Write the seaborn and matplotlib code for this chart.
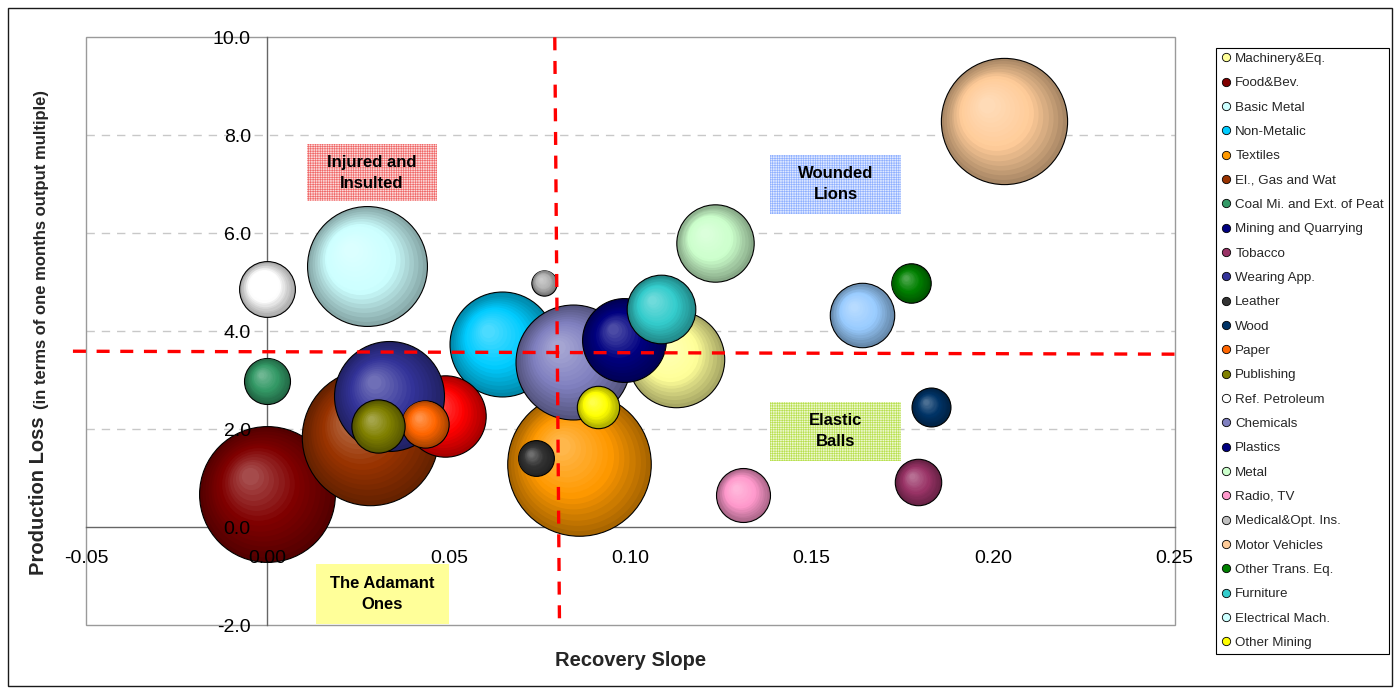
import numpy as np
import pandas as pd
import matplotlib
matplotlib.use("Agg")
import matplotlib.pyplot as plt
import matplotlib.transforms as mtransforms
import matplotlib.colors as mcolors
from matplotlib.patches import Rectangle
from matplotlib.lines import Line2D
import seaborn as sns

# ---- data -------------------------------------------------------------
sectors = [
    "Machinery&Eq.", "Food&Bev.", "Basic Metal", "Non-Metalic", "Textiles",
    "El., Gas and Wat", "Coal Mi. and Ext. of Peat", "Mining and Quarrying",
    "Tobacco", "Wearing App.", "Leather", "Wood", "Paper", "Publishing",
    "Ref. Petroleum", "Chemicals", "Plastics", "Metal", "Radio, TV",
    "Medical&Opt. Ins.", "Motor Vehicles", "Other Trans. Eq.", "Furniture",
    "Electrical Mach.", "Other Mining",
]
recovery_slope = [
    0.1125, 0.0000, 0.0274, 0.0646, 0.0860,
    0.0283, 0.0000, 0.0490,
    0.1794, 0.0334, 0.0739, 0.1829, 0.0434, 0.0306,
    0.0000, 0.0841, 0.0983, 0.1234, 0.1312,
    0.0763, 0.2030, 0.1773, 0.1086,
    0.1639, 0.0911,
]
production_loss = [
    3.44, 0.68, 5.33, 3.73, 1.28,
    1.84, 2.99, 2.27,
    0.91, 2.67, 1.40, 2.45, 2.11, 2.06,
    4.86, 3.37, 3.81, 5.80, 0.65,
    4.99, 8.29, 4.98, 4.45,
    4.33, 2.45,
]
bubble_size = [
    23.3, 46.2, 36.0, 27.6, 51.6,
    46.6, 5.3, 16.6,
    5.4, 30.3, 3.2, 3.8, 5.6, 7.1,
    7.8, 33.1, 17.6, 15.0, 7.3,
    1.6, 39.9, 3.9, 11.8,
    10.4, 4.5,
]
bubble_colors = [
    "#FFFF99", "#800000", "#CCFFFF", "#00CCFF", "#FF9900",
    "#993300", "#339966", "#FF0000",
    "#993366", "#333399", "#333333", "#003366", "#FF6600", "#808000",
    "#FFFFFF", "#8080C0", "#000080", "#CCFFCC", "#FF99CC",
    "#B4B4B4", "#FFCC99", "#008000", "#33CCCC",
    "#99CCFF", "#FFFF00",
]
legend_colors = list(bubble_colors)
legend_colors[sectors.index("Mining and Quarrying")] = "#000080"
legend_colors[sectors.index("Electrical Mach.")] = "#CCFFFF"
legend_colors[sectors.index("Medical&Opt. Ins.")] = "#C0C0C0"

x_ticks = [-0.05, 0.00, 0.05, 0.10, 0.15, 0.20, 0.25]
y_ticks = [-2.0, 0.0, 2.0, 4.0, 6.0, 8.0, 10.0]
grid_levels = [2.0, 4.0, 6.0, 8.0]

# quadrant dividers (slightly tilted hand-drawn lines)
divider_slope = ([0.0792, 0.0805], [10.0, -2.0])
divider_loss = ([-0.0536, 0.25], [3.59, 3.53])

# quadrant captions: text, (x0, y0, width, height), face, hatch colour, hatch
quadrants = [
    ("Injured and\nInsulted", (0.0108, 6.65, 0.0360, 1.17), "#fcdada", "#f06868", "+++++++"),
    ("Wounded\nLions", (0.1386, 6.39, 0.0361, 1.21), "#e0e9ff", "#8fb0ff", "+++++++"),
    ("Elastic\nBalls", (0.1386, 1.35, 0.0361, 1.21), "#eef8d0", "#b8e050", "+++++++"),
    ("The Adamant\nOnes", (0.0134, -1.97, 0.0366, 1.21), "#FFFF99", None, None),
]

df = pd.DataFrame({
    "sector": sectors,
    "slope": recovery_slope,
    "loss": production_loss,
    "size": bubble_size,
    "color": bubble_colors,
})

# ---- style --------------------------------------------------------------
sns.set_theme(style="white")
plt.rcParams["font.family"] = ["Liberation Sans", "DejaVu Sans"]
plt.rcParams["axes.unicode_minus"] = False
plt.rcParams["hatch.linewidth"] = 0.45

DPI = 100
W, H = 1394, 688
fig = plt.figure(figsize=(W / DPI, H / DPI), dpi=DPI)
fig.patch.set_facecolor("white")

ax_l, ax_r, ax_t, ax_b = 86, 1174.5, 37.3, 625
ax = fig.add_axes([ax_l / W, 1 - ax_b / H, (ax_r - ax_l) / W, (ax_b - ax_t) / H])
ax.set_facecolor("white")

# points^2 per unit of bubble size (area-proportional bubbles)
AREA_SCALE = 207.0


def shades(base):
    rgb = np.array(mcolors.to_rgb(base))
    dark = rgb * 0.66
    light = rgb + (1 - rgb) * 0.33
    return rgb, dark, light


def blend(rgb, dark, light, t):
    if t < 0.45:
        u = t / 0.45
        return dark + (rgb - dark) * u
    u = (t - 0.45) / 0.55
    return rgb + (light - rgb) * u


N_LAYERS = 16
for i, row in df.iterrows():
    z = 2 + i * 0.05
    s = row["size"] * AREA_SCALE
    rgb, dark, light = shades(row["color"])
    sns.scatterplot(x=[row["slope"]], y=[row["loss"]], s=s, color=dark,
                    edgecolor="black", linewidth=0.8, zorder=z, ax=ax,
                    legend=False)
    r_pt = np.sqrt(s) / 2
    for k in range(1, N_LAYERS):
        t = k / N_LAYERS
        f = 1 - 0.93 * t
        shift = (1 - f) * r_pt * 0.30
        tr = ax.transData + mtransforms.ScaledTranslation(
            -shift / 72, shift / 72, fig.dpi_scale_trans)
        ax.scatter([row["slope"]], [row["loss"]], s=s * f ** 2,
                   color=blend(rgb, dark, light, t), linewidths=0,
                   transform=tr, zorder=z + k * 0.001)

# ---- axes -------------------------------------------------------------
ax.set_xlim(x_ticks[0], x_ticks[-1])
ax.set_ylim(y_ticks[0], y_ticks[-1])
ax.set_xticks(x_ticks)
ax.set_yticks(y_ticks)
ax.set_xticklabels([f"{v:.2f}" for v in x_ticks])
ax.set_yticklabels([f"{v:.1f}" for v in y_ticks])
ax.grid(False)

for lvl in grid_levels:
    ax.axhline(lvl, color="#c8c8c8", lw=1.0, dashes=(6, 5), zorder=1)

for side in ["top", "right"]:
    ax.spines[side].set_visible(False)
ax.spines["left"].set_position(("data", 0))
ax.spines["bottom"].set_position(("data", 0))
for side in ["left", "bottom"]:
    ax.spines[side].set_color("#666666")
    ax.spines[side].set_linewidth(1.0)
    ax.spines[side].set_zorder(1.5)

ax.add_patch(Rectangle((0, 0), 1, 1, transform=ax.transAxes, fill=False,
                       edgecolor="#9a9a9a", lw=1.0, zorder=1.4, clip_on=False))

ax.tick_params(axis="both", direction="out", length=5, width=0.8,
               color="#666666", labelsize=14, labelcolor="black")
ax.tick_params(axis="x", pad=11.5)
ax.tick_params(axis="y", pad=7)
ax.xaxis.set_zorder(12)
ax.yaxis.set_zorder(12)

# quadrant dividers
ax.plot(*divider_slope, color="#FF0000", lw=2.4, dashes=(3.9, 3.2),
        zorder=10, clip_on=False)
ax.plot(*divider_loss, color="#FF0000", lw=2.4, dashes=(3.9, 3.2),
        zorder=10, clip_on=False)

# quadrant captions
for text, (x0, y0, w, h), face, hcol, hatch in quadrants:
    if hatch:
        ax.add_patch(Rectangle((x0, y0), w, h, facecolor=face, edgecolor=hcol,
                               hatch=hatch, lw=0, zorder=9))
    else:
        ax.add_patch(Rectangle((x0, y0), w, h, facecolor=face, lw=0, zorder=9))
    ax.text(x0 + w / 2, y0 + h / 2, text, ha="center", va="center",
            fontsize=12, fontweight="bold", color="black", linespacing=1.5,
            zorder=9.5)

# axis titles
ax.set_xlabel("Recovery Slope", fontsize=14.5, fontweight="bold")
ax.xaxis.label.set_va("center")
ax.xaxis.set_label_coords(0.5, -(661 - ax_b) / (ax_b - ax_t))

fig.text(39 / W, 1 - 575 / H, "Production Loss", rotation=90, ha="center",
         va="bottom", fontsize=14.5, fontweight="bold")
fig.text(42 / W, 1 - 409 / H, "(in terms of one months output multiple)",
         rotation=90, ha="center", va="bottom", fontsize=12, fontweight="bold")

# legend
handles = [Line2D([], [], ls="", marker="o", markersize=6,
                  markerfacecolor=c, markeredgecolor="black",
                  markeredgewidth=0.6) for c in legend_colors]
leg = fig.legend(handles, sectors, loc="upper left",
                 bbox_to_anchor=(1216 / W, 1 - 47.5 / H),
                 frameon=True, fancybox=False, framealpha=1,
                 edgecolor="black", borderpad=0.38, labelspacing=0.9,
                 handlelength=0.8, handletextpad=0.27, borderaxespad=0,
                 prop={"family": "Liberation Sans", "size": 9.6})
leg.get_frame().set_linewidth(0.8)

# outer chart border
fig.add_artist(Rectangle((7.5 / W, 1 - 686 / H), (1392 - 7.5) / W,
                         (686 - 7.5) / H, transform=fig.transFigure,
                         fill=False, edgecolor="#1a1a1a", lw=1.0))

fig.savefig("out.png", dpi=DPI, facecolor="white")
